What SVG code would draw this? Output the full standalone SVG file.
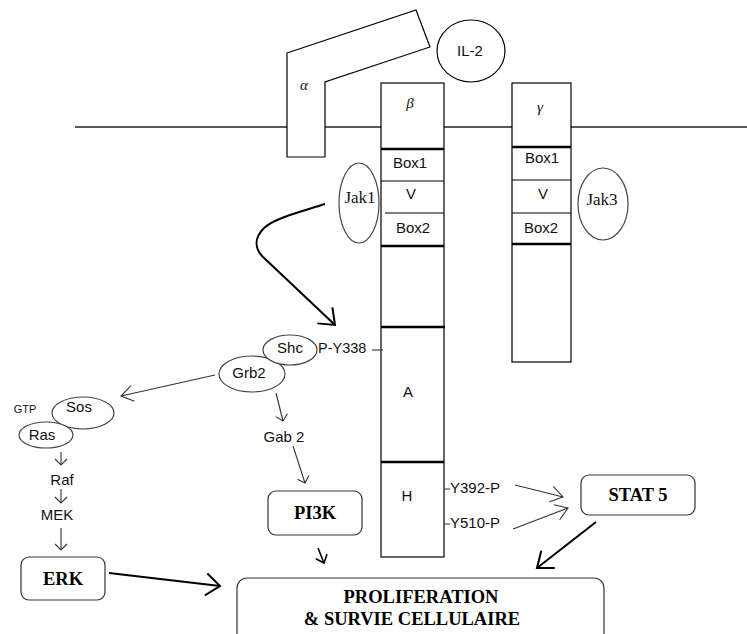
<svg xmlns="http://www.w3.org/2000/svg" width="747" height="634" viewBox="0 0 747 634">
<style>
.ln{stroke:#000;stroke-width:1.2;fill:none}
.thk{stroke:#000;stroke-width:2.5;fill:none}
.box{fill:#fff;stroke:#000;stroke-width:1.2}
.ell{fill:#fff;stroke:#444;stroke-width:1.2}
.rbox{fill:#fff;stroke:#333;stroke-width:1.2}
.t{font-family:"Liberation Sans",Arial,sans-serif;font-size:15px;fill:#111;text-anchor:middle}
.ts{font-family:"Liberation Serif","Times New Roman",serif;font-size:17px;fill:#111;text-anchor:middle}
.tg{font-family:"Liberation Serif","Times New Roman",serif;font-size:15px;font-style:italic;fill:#111;text-anchor:middle}
.tb{font-family:"Liberation Serif","Times New Roman",serif;font-size:18.5px;font-weight:bold;fill:#000;text-anchor:middle}
.a1{stroke:#333;stroke-width:1.1;fill:none}
.a2{stroke:#000;stroke-width:2;fill:none}
</style>
<defs>
<marker id="ah" viewBox="-14 -10 16 20" refX="0" refY="0" markerWidth="16" markerHeight="20" markerUnits="userSpaceOnUse" orient="auto">
<path d="M-12,-8 L0,0 L-12,8" fill="none" stroke="#333" stroke-width="1.1"/>
</marker>
<marker id="ahs" viewBox="-9 -8 11 16" refX="0" refY="0" markerWidth="11" markerHeight="16" markerUnits="userSpaceOnUse" orient="auto">
<path d="M-6,-6 L0,0 L-6,6" fill="none" stroke="#333" stroke-width="1.1"/>
</marker>
<marker id="ahb" viewBox="-16 -14 18 28" refX="0" refY="0" markerWidth="18" markerHeight="28" markerUnits="userSpaceOnUse" orient="auto">
<path d="M-14,-11 L0,0 L-14,11" fill="none" stroke="#000" stroke-width="2"/>
</marker>
<marker id="ahm" viewBox="-10 -9 12 18" refX="0" refY="0" markerWidth="12" markerHeight="18" markerUnits="userSpaceOnUse" orient="auto">
<path d="M-7,-6 L0,0 L-7,6" fill="none" stroke="#000" stroke-width="1.6"/>
</marker>
</defs>
<rect width="747" height="634" fill="#fff"/>

<g id="membrane">
<line x1="75" y1="127" x2="747" y2="127" stroke="#222" stroke-width="1.5"/>
</g>

<g id="alpha">
<polygon points="287,53 416,10 430,47 325,82 325,157 287,157" class="box"/>
<text x="304" y="90" class="tg">α</text>
</g>

<g id="il2">
<ellipse cx="471" cy="51" rx="34" ry="31" class="box"/>
<text x="470" y="56" class="t">IL-2</text>
</g>

<g id="beta">
<rect x="381" y="83" width="63" height="474" class="box"/>
<text x="410" y="108" class="tg">β</text>
<line x1="381" y1="149" x2="444" y2="149" class="thk"/>
<line x1="381" y1="181" x2="444" y2="181" class="ln"/>
<line x1="385" y1="213" x2="444" y2="213" class="ln"/>
<line x1="381" y1="246" x2="444" y2="246" class="thk"/>
<line x1="381" y1="327" x2="445" y2="327" class="thk"/>
<line x1="381" y1="462" x2="444" y2="462" class="thk"/>
<text x="410" y="168" class="t">Box1</text>
<text x="411" y="199" class="t">V</text>
<text x="413" y="233" class="t">Box2</text>
<text x="408" y="397" class="t">A</text>
<text x="407" y="501" class="t">H</text>
</g>

<g id="gamma">
<rect x="512" y="83" width="59" height="279" class="box"/>
<text x="540" y="112" class="tg">γ</text>
<line x1="512" y1="147" x2="571" y2="147" class="thk"/>
<line x1="512" y1="180" x2="571" y2="180" class="ln"/>
<line x1="512" y1="213" x2="571" y2="213" class="ln"/>
<line x1="512" y1="244" x2="571" y2="244" class="thk"/>
<text x="542" y="163" class="t">Box1</text>
<text x="543" y="199" class="t">V</text>
<text x="541" y="233" class="t">Box2</text>
</g>

<g id="jak1">
<ellipse cx="359" cy="203" rx="20" ry="40" class="ell"/>
<text x="360" y="203" class="ts">Jak1</text>
</g>

<g id="jak3">
<ellipse cx="603" cy="204" rx="25" ry="36" class="ell"/>
<text x="602" y="205" class="ts">Jak3</text>
</g>

<g id="py338">
<text x="318" y="353" class="t" style="text-anchor:start;font-size:14.5px">P-Y338</text>
<line x1="372" y1="350" x2="383" y2="350" stroke="#444" stroke-width="1.2"/>
</g>

<g id="grb2">
<ellipse cx="252" cy="374" rx="33" ry="18" class="ell"/>
<text x="249" y="378" class="t">Grb2</text>
</g>

<g id="shc">
<ellipse cx="290" cy="350" rx="27" ry="15" class="ell"/>
<text x="290" y="353" class="t">Shc</text>
</g>

<g id="sos">
<ellipse cx="83" cy="413" rx="31" ry="16" class="ell"/>
<text x="79" y="412" class="t">Sos</text>
</g>

<g id="ras">
<ellipse cx="46" cy="435" rx="27" ry="13" class="ell"/>
<text x="42" y="440" class="t">Ras</text>
</g>

<g id="gtp">
<text x="25" y="413" class="t" style="font-size:11px">GTP</text>
</g>

<g id="gab2">
<text x="284" y="442" class="t">Gab 2</text>
</g>

<g id="raf">
<text x="62" y="485" class="t">Raf</text>
</g>

<g id="mek">
<text x="57" y="520" class="t">MEK</text>
</g>

<g id="erk">
<rect x="21" y="557" width="84" height="43" rx="8" class="rbox"/>
<text x="63" y="585" class="tb">ERK</text>
</g>

<g id="pi3k">
<rect x="268" y="491" width="94" height="44" rx="8" class="rbox"/>
<text x="315" y="519" class="tb">PI3K</text>
</g>

<g id="stat5">
<rect x="581" y="475" width="114" height="40" rx="8" class="rbox"/>
<text x="638" y="501" class="tb">STAT 5</text>
</g>

<g id="y392">
<line x1="444" y1="489" x2="450" y2="489" stroke="#333" stroke-width="1"/>
<text x="450" y="493" class="t" style="text-anchor:start">Y392-P</text>
</g>

<g id="y510">
<line x1="444" y1="524" x2="450" y2="524" stroke="#333" stroke-width="1"/>
<text x="450" y="528" class="t" style="text-anchor:start">Y510-P</text>
</g>

<g id="proliferation">
<rect x="237" y="578" width="367" height="80" rx="10" class="rbox"/>
<text x="421" y="603" class="tb">PROLIFERATION</text>
<text x="412" y="625" class="tb">&amp; SURVIE CELLULAIRE</text>
</g>

<g id="connectors">
<path d="M325,204 C300,212 275,218 264,228 C254,238 255,248 262,256 L335,325" class="a2" marker-end="url(#ahb)"/>
<line x1="215" y1="375" x2="121" y2="396" class="a1" marker-end="url(#ah)"/>
<line x1="276" y1="393" x2="283" y2="421" class="a1" marker-end="url(#ahs)"/>
<line x1="293" y1="446" x2="305" y2="483" class="a1" marker-end="url(#ahs)"/>
<line x1="61" y1="452" x2="61" y2="465" class="a1" marker-end="url(#ahs)"/>
<line x1="61" y1="489" x2="61" y2="503" class="a1" marker-end="url(#ahs)"/>
<line x1="61" y1="528" x2="61" y2="550" class="a1" marker-end="url(#ahs)"/>
<line x1="109" y1="573" x2="220" y2="586" class="a2" marker-end="url(#ahb)"/>
<line x1="318" y1="548" x2="324" y2="563" stroke="#000" stroke-width="1.6" marker-end="url(#ahm)"/>
<line x1="515" y1="485" x2="563" y2="497" class="a1" marker-end="url(#ah)"/>
<line x1="513" y1="529" x2="568" y2="508" class="a1" marker-end="url(#ah)"/>
<line x1="596" y1="522" x2="537" y2="568" class="a2" marker-end="url(#ahb)"/>
</g>
</svg>
